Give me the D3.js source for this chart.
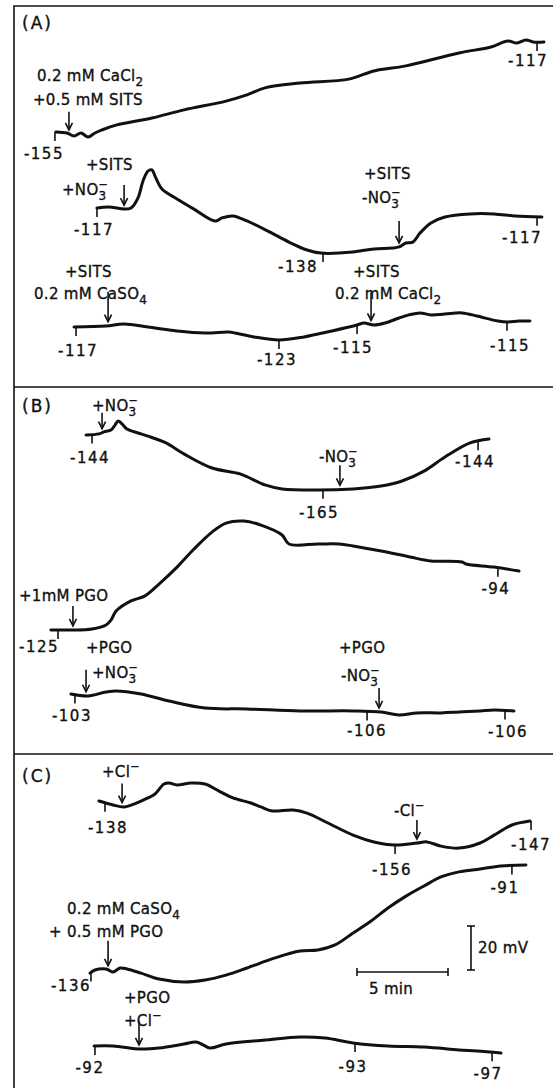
<!DOCTYPE html>
<html><head><meta charset="utf-8">
<script src="https://cdn.jsdelivr.net/npm/d3@7"></script>
<style>
body{margin:0;background:#fff;}
text{font-family:"DejaVu Sans",sans-serif;fill:#111;stroke:#111;stroke-width:0.35px;}
.lab{font-size:15px;letter-spacing:0.3px;}
.tk{font-size:15px;letter-spacing:1.5px;text-anchor:middle;}
.pl{font-size:17px;letter-spacing:2px;}
</style></head><body>
<svg id="c" width="553" height="1088"></svg>
<script>
// ---------- DATA (time in min, membrane potential in mV) ----------
const traceA1 = [[0.88,-154.5],[1.48,-155],[1.87,-156.4],[2.25,-155],[2.64,-156.8],[3.02,-155],[3.41,-153.6],[4.18,-151.4],[6.15,-148.2],[7.91,-144.5],[10.22,-140.5],[11.37,-137.7],[12.36,-134.5],[14.29,-132.3],[16.98,-130.5],[18.35,-126.8],[20.11,-124.5],[23.02,-118.6],[24.78,-115.9],[25.71,-113.2],[26.21,-114.1],[26.70,-112.7],[27.09,-113.6],[27.69,-113.6]];
const ticksA1 = [[0.82,"-155"],[27.31,"-117"]];
const traceA2 = [[3.13,-117],[3.79,-116.5],[4.62,-117.5],[5.0,-117],[5.38,-112.5],[5.66,-104.7],[5.93,-100.2],[6.15,-99.7],[6.32,-102.5],[6.70,-108.4],[7.53,-112.9],[8.46,-117.5],[9.62,-122.9],[10.0,-121.5],[10.60,-120.6],[11.37,-122.9],[12.53,-127.5],[13.68,-132.5],[14.67,-136.1],[15.44,-137.5],[17.20,-137],[18.35,-135.6],[19.34,-135.2],[19.73,-134.7],[20.11,-132.9],[20.49,-132.5],[20.88,-128.4],[21.48,-123.8],[22.25,-121.1],[23.63,-119.7],[24.95,-119.7],[26.10,-120.6],[27.58,-121.1]];
const ticksA2 = [[3.13,"-117"],[15.55,"-138"],[27.31,"-117"]];
const traceA3 = [[1.87,-117],[3.63,-116.5],[4.62,-115.6],[5.93,-117],[7.53,-118.8],[9.07,-119.7],[10.38,-119.3],[10.71,-119.7],[11.76,-121.5],[13.13,-122.9],[14.51,-121.5],[16.04,-118.8],[17.42,-116.1],[17.80,-115.2],[18.35,-116.1],[18.96,-115.2],[19.73,-112.9],[20.27,-111.5],[20.88,-110.6],[21.48,-111.5],[22.25,-111.1],[23.19,-110.6],[24.01,-112],[25.16,-114.3],[25.71,-114.7],[26.32,-114.3],[26.92,-114.3]];
const ticksA3 = [[1.98,"-117"],[13.13,"-123"],[17.42,"-115"],[25.66,"-115"]];
const traceB1 = [[2.53,-144],[3.24,-143.5],[3.52,-142.6],[3.90,-141.7],[4.12,-139.5],[4.29,-137.6],[4.51,-139],[4.78,-141.3],[5.38,-143.1],[5.93,-144.5],[6.92,-147.6],[7.91,-152.6],[9.45,-159],[10.99,-161.7],[12.36,-166.7],[13.30,-168.5],[15.27,-169],[17.20,-168.5],[18.74,-167.2],[19.89,-164.9],[21.10,-160.4],[22.25,-154],[23.63,-147.6],[24.67,-145.8]];
const ticksB1 = [[2.86,"-144"],[15.55,"-165"],[24.07,"-144"]];
const traceB2 = [[0.60,-125],[1.70,-125],[2.86,-124.5],[3.63,-122.7],[3.90,-120.5],[4.18,-116.4],[5.0,-111.8],[5.77,-109.5],[6.54,-104.1],[7.53,-96.4],[8.46,-88.2],[9.45,-80.5],[10.22,-76.4],[11.21,-75.5],[12.14,-77.3],[13.30,-81.8],[13.68,-85.9],[15.27,-85.9],[16.43,-85.9],[17.20,-86.8],[18.74,-89.1],[20.33,-91.8],[21.48,-93.6],[23.19,-94.1],[23.41,-95],[24.95,-96.4],[26.32,-98.2]];
const ticksB2 = [[0.99,"-125"],[25.16,"-94"]];
const traceB3 = [[1.70,-103],[2.64,-103.9],[3.63,-102.1],[4.18,-101.6],[5.55,-103],[7.09,-106.2],[9.07,-109.4],[11.37,-109.8],[14.29,-110.7],[17.20,-110.7],[18.74,-111.2],[19.73,-112.5],[20.71,-111.6],[22.03,-111.6],[23.02,-111.2],[24.18,-110.7],[24.95,-110.3],[26.04,-110.7]];
const ticksB3 = [[1.92,"-103"],[17.97,"-106"],[25.55,"-106"]];
const traceC1 = [[3.24,-138],[4.01,-139.8],[4.62,-140.7],[5.16,-139.4],[5.93,-136.6],[6.32,-134.8],[6.81,-130.3],[7.09,-129.8],[7.53,-130.7],[8.30,-129.8],[9.07,-130.3],[9.84,-133.5],[10.60,-136.6],[11.59,-138.9],[12.14,-140.7],[12.75,-142.5],[13.90,-142.1],[14.67,-143.5],[15.82,-148],[17.20,-153.5],[18.35,-156.6],[19.51,-158],[20.71,-157.1],[21.26,-156.6],[22.03,-158.5],[23.02,-159.4],[24.18,-157.1],[24.95,-153.5],[25.93,-148.9],[26.92,-147.1]];
const ticksC1 = [[3.57,"-138"],[19.51,"-156"],[26.98,"-147"]];
const traceC2 = [[2.75,-136.5],[3.02,-135.1],[3.63,-134.6],[4.01,-136],[4.40,-134.2],[4.78,-134.6],[5.55,-136.5],[6.54,-139.2],[7.91,-140.5],[9.07,-139.6],[10.22,-137.4],[11.37,-134.2],[12.91,-129.6],[14.29,-126.5],[15.27,-126],[16.21,-123.7],[17.20,-118.3],[18.19,-112.8],[19.12,-106.9],[20.11,-101.5],[21.10,-96.9],[22.03,-92.8],[23.02,-90.5],[24.18,-89.2],[25.33,-87.8],[26.70,-87.4]];
const ticksC2 = [[2.80,"-136"],[25.93,"-91"]];
const traceC3 = [[2.97,-92],[4.01,-92],[5.55,-93.4],[6.54,-92.9],[7.91,-91.1],[8.57,-90.2],[8.96,-91.5],[9.34,-92.9],[10.22,-91.1],[12.36,-89.3],[14.29,-87.9],[15.66,-88.4],[17.20,-90.6],[19.12,-92],[21.10,-92.5],[23.02,-93.8],[24.01,-94.3],[25.33,-95.2]];
const ticksC3 = [[3.02,"-92"],[17.31,"-93"],[24.84,"-97"]];
// treatment arrows: time of addition (min)
const arrowsA1 = [1.59];
const arrowsA2 = [4.62, 19.73];
const arrowsA3 = [3.74, 18.19];
const arrowsB1 = [3.41, 16.48];
const arrowsB2 = [1.81];
const arrowsB3 = [2.53, 18.63];
const arrowsC1 = [4.51, 20.71];
const arrowsC2 = [3.74];
const arrowsC3 = [5.44];
const scaleBarMin = 5, scaleBarMV = 20;
const panelLabels = ["(A)","(B)","(C)"];

// ---------- LAYOUT ----------
const W = 553, H = 1088;
const svg = d3.select("#c");
const x = d3.scaleLinear().domain([0, 5]).range([40, 131]);   // 5 min = 91 px
const mvPx = 2.2;                                              // px per mV
function yFor(anchorV, anchorY){ return d3.scaleLinear().domain([anchorV, anchorV - 20]).range([anchorY, anchorY + 20*mvPx]); }

const traces = [
 {d:traceA1, tk:ticksA1, ar:arrowsA1, y0:133, off:[[-11,27],[-9,24]], alen:[18]},
 {d:traceA2, tk:ticksA2, ar:arrowsA2, y0:208, off:[[-3,27],[-25,19],[-15,26]], alen:[20,22]},
 {d:traceA3, tk:ticksA3, ar:arrowsA3, y0:327, off:[[2,29],[-2,25],[-4,28],[3,29]], alen:[30,28]},
 {d:traceB1, tk:ticksB1, ar:arrowsB1, y0:435, off:[[-2,29],[-4,28],[-3,26]], alen:[16,20]},
 {d:traceB2, tk:ticksB2, ar:arrowsB2, y0:630, off:[[-19,22],[-2,26]], alen:[20]},
 {d:traceB3, tk:ticksB3, ar:arrowsB3, y0:694, off:[[-3,27],[0,25],[3,26]], alen:[22,20]},
 {d:traceC1, tk:ticksC1, ar:arrowsC1, y0:801, off:[[3,30],[-3,30],[0,29]], alen:[19,19]},
 {d:traceC2, tk:ticksC2, ar:arrowsC2, y0:972, off:[[-20,18],[-7,27]], alen:[25]},
 {d:traceC3, tk:ticksC3, ar:arrowsC3, y0:1046, off:[[-5,27],[-2,29],[-4,27]], alen:[24]}
];

// text annotations [x, baseline y, markup]
const notes = [
 [37,81,"0.2 mM CaCl_2"],[33,105,"+0.5 mM SITS"],
 [86,170,"+SITS"],[62,195,"+NO_3^-"],
 [364,179,"+SITS"],[362,203,"-NO_3^-"],
 [65,277,"+SITS"],[34,299,"0.2 mM CaSO_4"],
 [353,277,"+SITS"],[335,299,"0.2 mM CaCl_2"],
 [92,411,"+NO_3^-"],[319,462,"-NO_3^-"],
 [19,601,"+1mM PGO"],
 [86,653,"+PGO"],[92,678,"+NO_3^-"],
 [339,653,"+PGO"],[341,681,"-NO_3^-"],
 [102,777,"+Cl^-"],[394,816,"-Cl^-"],
 [67,914,"0.2 mM CaSO_4"],[49,937,"+ 0.5 mM PGO"],
 [124,1003,"+PGO"],[124,1026,"+Cl^-"]
];

// sub/superscript markup: "_c" subscript, "^c" superscript (stacked over a preceding subscript)
function rich(sel, px, py, str, cls){
  const t = sel.append("text").attr("x", px).attr("y", py).attr("class", cls);
  let cur = 0, buf = "", lastSub = false;
  const flush = () => { if (buf){ t.append("tspan").attr("dy", -cur).text(buf); cur = 0; buf = ""; } };
  for (let i = 0; i < str.length; i++){
    const ch = str[i];
    if (ch === "_"){ flush(); const c = str[++i]; t.append("tspan").attr("dy", 5 - cur).style("font-size","12px").text(c); cur = 5; lastSub = true; }
    else if (ch === "^"){ flush(); const c = str[++i] === "-" ? "\u2212" : str[i];
      const s = t.append("tspan").attr("dy", -7 - cur).style("font-size","11px").text(c);
      if (lastSub) s.attr("dx", -8);
      cur = -7; lastSub = false; }
    else { buf += ch; lastSub = false; }
  }
  flush();
}
function interp(data, t){
  const i = d3.bisector(d => d[0]).left(data, t);
  if (i <= 0) return data[0][1];
  if (i >= data.length) return data[data.length-1][1];
  const a = data[i-1], b = data[i], f = (t - a[0])/(b[0]-a[0]);
  return a[1] + f*(b[1]-a[1]);
}

// frame
const frame = svg.append("g").attr("stroke","#111").attr("stroke-width",1.6).attr("fill","none");
frame.append("path").attr("d", d3.line()([[W,6],[14,6],[14,H]]));
[387, 754].forEach(yy => frame.append("line").attr("x1",14).attr("x2",W).attr("y1",yy).attr("y2",yy));
svg.selectAll(".pl").data(panelLabels).join("text").attr("class","pl")
  .attr("x",22).attr("y",(d,i)=>[29,412,782][i]).text(d=>d);

const line = d3.line().curve(d3.curveCatmullRom.alpha(0.5));
traces.forEach(tr => {
  const ys = yFor(+tr.tk[0][1], tr.y0);
  const g = svg.append("g");
  g.append("path").attr("d", line(tr.d.map(p => [x(p[0]), ys(p[1])])))
    .attr("fill","none").attr("stroke","#111").attr("stroke-width",3).attr("stroke-linejoin","round").attr("stroke-linecap","round");
  tr.tk.forEach((k, j) => {
    const tx = x(k[0]), ty = ys(interp(tr.d, k[0]));
    g.append("line").attr("x1",tx).attr("x2",tx).attr("y1",ty).attr("y2",ty+9).attr("stroke","#111").attr("stroke-width",1.6);
    g.append("text").attr("class","tk").attr("x",tx+tr.off[j][0]).attr("y",ty+tr.off[j][1]).text(k[1]);
  });
  tr.ar.forEach((a, j) => {
    const ax = x(a), tip = ys(interp(tr.d, a)) - 4, top = tip - tr.alen[j];
    g.append("line").attr("x1",ax).attr("x2",ax).attr("y1",top).attr("y2",tip).attr("stroke","#111").attr("stroke-width",1.6);
    g.append("path").attr("d", d3.line()([[ax-3.5,tip-7],[ax,tip],[ax+3.5,tip-7]]))
      .attr("fill","none").attr("stroke","#111").attr("stroke-width",1.6);
  });
});
notes.forEach(n => rich(svg, n[0], n[1], n[2], "lab"));

// scale bars
const sb = svg.append("g").attr("stroke","#111").attr("stroke-width",1.6);
const hx0 = 357, hy = 972, vx = 471, vy1 = 970;
const hLen = x(scaleBarMin) - x(0), vLen = scaleBarMV * mvPx;
sb.append("line").attr("x1",hx0).attr("x2",hx0+hLen).attr("y1",hy).attr("y2",hy);
sb.append("line").attr("x1",hx0).attr("x2",hx0).attr("y1",hy-4).attr("y2",hy+4);
sb.append("line").attr("x1",hx0+hLen).attr("x2",hx0+hLen).attr("y1",hy-4).attr("y2",hy+4);
sb.append("line").attr("x1",vx).attr("x2",vx).attr("y1",vy1-vLen).attr("y2",vy1);
sb.append("line").attr("x1",vx-4).attr("x2",vx+4).attr("y1",vy1-vLen).attr("y2",vy1-vLen);
sb.append("line").attr("x1",vx-4).attr("x2",vx+4).attr("y1",vy1).attr("y2",vy1);
svg.append("text").attr("class","lab").attr("x",hx0+12).attr("y",hy+22).text(scaleBarMin+" min");
svg.append("text").attr("class","lab").attr("x",vx+7).attr("y",vy1-vLen/2+5).text(scaleBarMV+" mV");
</script></body></html>
